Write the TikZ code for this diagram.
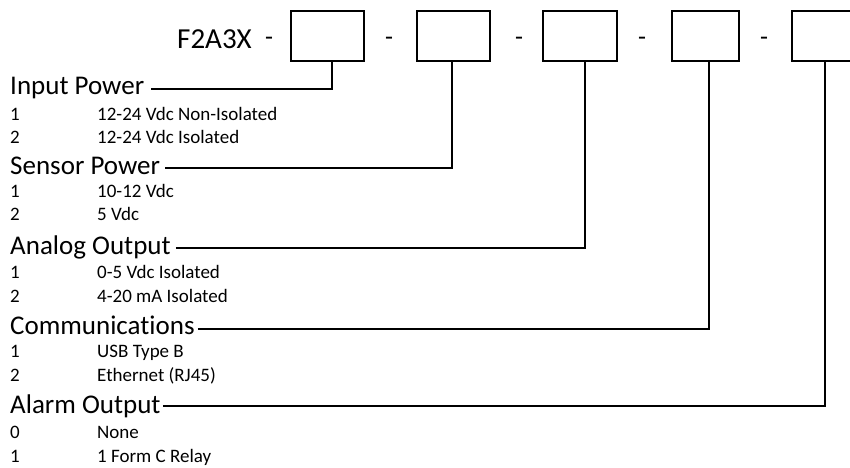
\documentclass[tikz,border=0pt]{standalone}
\usepackage{fontspec}
\setmainfont{Carlito}[Ligatures={NoCommon}]
\begin{document}
\begin{tikzpicture}[x=1pt,y=-1pt,
  head/.style={anchor=base west, inner sep=0pt, font=\fontsize{27}{31}\selectfont},
  item/.style={anchor=base west, inner sep=0pt, font=\fontsize{19}{22}\selectfont},
  title/.style={anchor=base west, inner sep=0pt, font=\fontsize{29}{33}\selectfont},
  sep/.style={anchor=base, inner sep=0pt, font=\fontsize{26}{30}\selectfont},
  slot/.style={draw, line width=1.5pt, minimum height=50pt, inner sep=0pt, anchor=north west},
  conn/.style={line width=1.3pt}]
\useasboundingbox (0,0) rectangle (850,467);
\clip (0,0) rectangle (850,467);
% header
\node[title] (code) at (177,48) {F2A3X};
\node[sep] (d1) at (269,45) {-};
\node[sep] (d2) at (389,45) {-};
\node[sep] (d3) at (519,45) {-};
\node[sep] (d4) at (642,45) {-};
\node[sep] (d5) at (764,45) {-};
\node[slot, minimum width=73pt] (b1) at (290,10) {};
\node[slot, minimum width=73pt] (b2) at (416,10) {};
\node[slot, minimum width=74pt] (b3) at (542,10) {};
\node[slot, minimum width=67pt] (b4) at (671,10) {};
\node[slot, minimum width=73pt] (b5) at (791,10) {};
\coordinate (t1) at (332,60);
\coordinate (t2) at (452,60);
\coordinate (t3) at (585,60);
\coordinate (t4) at (709,60);
\coordinate (t5) at (825,60);
% sections
\node[head] (h1) at (10,94) {Input Power};
\node[item] (n11) at (10,120) {1};
\node[item] (v11) at (97,120) {12-24 Vdc Non-Isolated};
\node[item] (n12) at (10,143) {2};
\node[item] (v12) at (97,143) {12-24 Vdc Isolated};

\node[head] (h2) at (10,174) {Sensor Power};
\node[item] (n21) at (10,197) {1};
\node[item] (v21) at (97,197) {10-12 Vdc};
\node[item] (n22) at (10,220) {2};
\node[item] (v22) at (97,220) {5 Vdc};

\node[head] (h3) at (10,254) {Analog Output};
\node[item] (n31) at (10,278) {1};
\node[item] (v31) at (97,278) {0-5 Vdc Isolated};
\node[item] (n32) at (10,302) {2};
\node[item] (v32) at (97,302) {4-20 mA Isolated};

\node[head] (h4) at (10,334) {Communications};
\node[item] (n41) at (10,357) {1};
\node[item] (v41) at (97,357) {USB Type B};
\node[item] (n42) at (10,381) {2};
\node[item] (v42) at (97,381) {Ethernet (RJ45)};

\node[head] (h5) at (10,413) {Alarm Output};
\node[item] (n51) at (10,438) {0};
\node[item] (v51) at (97,438) {None};
\node[item] (n52) at (10,462) {1};
\node[item] (v52) at (97,462) {1 Form C Relay};
% connectors
\draw[conn] (h1.base east) ++(7,-5) coordinate (s1) -| (t1);
\draw[conn] (h2.base east) ++(5,-6) coordinate (s2) -| (t2);
\draw[conn] (h3.base east) ++(5,-6) coordinate (s3) -| (t3);
\draw[conn] (h4.base east) ++(3,-5) coordinate (s4) -| (t4);
\draw[conn] (h5.base east) ++(2,-7) coordinate (s5) -| (t5);
\end{tikzpicture}
\end{document}
